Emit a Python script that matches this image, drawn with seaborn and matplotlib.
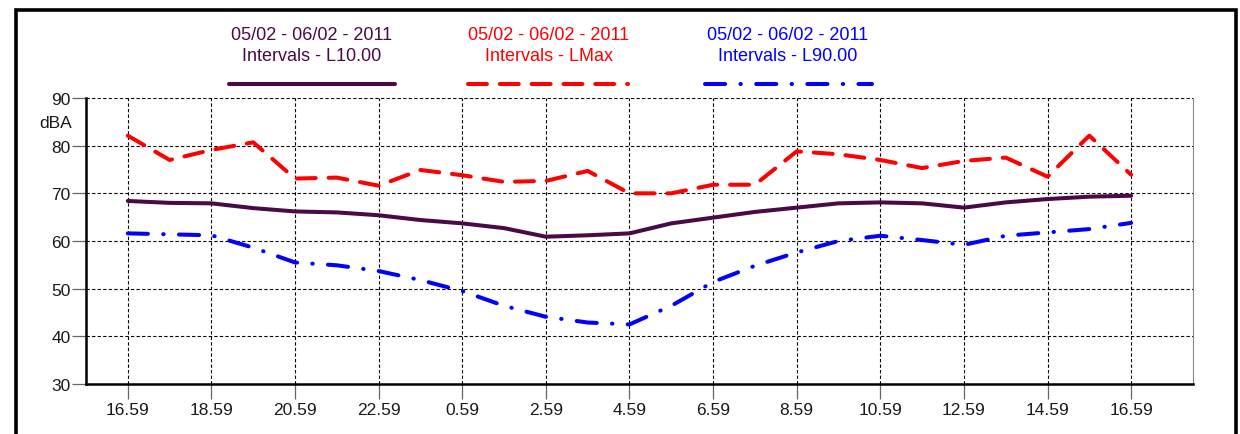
import numpy as np
import pandas as pd
import matplotlib
matplotlib.use("Agg")
import matplotlib.pyplot as plt
import seaborn as sns
from matplotlib.lines import Line2D
from matplotlib.patches import Rectangle

# ---- data ----
hours = ["16.59", "17.59", "18.59", "19.59", "20.59", "21.59", "22.59", "23.59",
         "0.59", "1.59", "2.59", "3.59", "4.59", "5.59", "6.59", "7.59",
         "8.59", "9.59", "10.59", "11.59", "12.59", "13.59", "14.59", "15.59", "16.59"]
l10 = [68.4, 68.0, 67.9, 66.9, 66.2, 66.0, 65.4, 64.4, 63.7, 62.7, 60.9, 61.2, 61.6,
       63.7, 64.9, 66.1, 67.0, 67.9, 68.1, 67.9, 67.0, 68.1, 68.8, 69.3, 69.5]
lmax = [82.1, 77.0, 79.1, 80.7, 73.1, 73.3, 71.6, 74.9, 73.8, 72.4, 72.6, 74.7, 70.0,
        70.0, 71.8, 71.8, 78.8, 78.2, 77.0, 75.3, 76.8, 77.5, 73.5, 82.1, 73.9]
l90 = [61.6, 61.4, 61.2, 58.6, 55.5, 54.9, 53.7, 51.8, 49.5, 46.4, 44.1, 42.9, 42.5,
       46.4, 51.4, 54.8, 57.6, 60.0, 61.1, 60.2, 59.2, 61.1, 61.8, 62.5, 63.8]
y_ticks = [30, 40, 50, 60, 70, 80, 90]
legend_date = "05/02 - 06/02 - 2011"
legend_labels = ["Intervals - L10.00", "Intervals - LMax", "Intervals - L90.00"]
y_unit = "dBA"

# ---- style ----
sns.set_theme(style="white")
plt.rcParams['font.family'] = ['Liberation Sans', 'DejaVu Sans']

PURPLE = "#4A0A48"
RED = "#FF0000"
BLUE = "#0000FF"
LW = 2.9

fig = plt.figure(figsize=(12.4, 4.35), dpi=100)
W, H = 1240, 435
ax = fig.add_axes([86 / W, 1 - 385 / H, (1193 - 86) / W, (385 - 99) / H])

idx = np.arange(len(hours))
df = pd.DataFrame({"idx": idx, "hour": hours, "L10": l10, "LMax": lmax, "L90": l90})

red_ls = (0, (4.7, 3.2))
blue_ls = (0, (5.0, 3.8, 0.1, 3.8))

sns.lineplot(data=df, x="idx", y="LMax", color=RED, lw=LW, linestyle=red_ls,
             dash_capstyle="round", ax=ax)
sns.lineplot(data=df, x="idx", y="L10", color=PURPLE, lw=LW,
             solid_capstyle="round", solid_joinstyle="round", ax=ax)
sns.lineplot(data=df, x="idx", y="L90", color=BLUE, lw=LW, linestyle=blue_ls,
             dash_capstyle="round", ax=ax)

ax.set_xlabel("")
ax.set_ylabel("")
ax.set_xlim(-1.0, 25.48)
ax.set_ylim(30, 90)
ax.set_yticks(y_ticks)
ax.set_xticks(idx[::2])
ax.set_xticklabels(hours[::2])

ax.grid(True, color="black", lw=0.8, linestyle=(0, (3, 2)))
ax.set_axisbelow(True)

for s in ["left", "bottom"]:
    ax.spines[s].set_color("black")
    ax.spines[s].set_linewidth(1.8)
ax.spines["top"].set_visible(False)
ax.spines["right"].set_color("#888888")
ax.spines["right"].set_linewidth(0.8)

ax.tick_params(axis="y", left=True, length=10, width=0.9, color="#666666",
               pad=1.0, labelsize=12.5, labelcolor="#1a1a1a")
ax.tick_params(axis="x", bottom=True, length=11, width=0.9, color="#666666",
               pad=2.0, labelsize=12.5, labelcolor="#1a1a1a")

fig.text(72 / W, 1 - 123 / H, y_unit, ha="right", va="center", fontsize=12.5,
         color="#1a1a1a")

# ---- legend (drawn above the plot) ----
leg_colors = [PURPLE, RED, BLUE]
leg_centers = [312, 549, 788]
leg_spans = [(229, 395), (468, 628), (705, 872)]
leg_styles = ["-", red_ls, blue_ls]
for c, cx, (x0, x1), ls, lab in zip(leg_colors, leg_centers, leg_spans, leg_styles, legend_labels):
    fig.text(cx / W, 1 - 36 / H, legend_date, ha="center", va="center",
             fontsize=13, color=c)
    fig.text(cx / W, 1 - 56.5 / H, lab, ha="center", va="center",
             fontsize=13, color=c)
    fig.add_artist(Line2D([x0 / W, x1 / W], [1 - 85 / H, 1 - 85 / H],
                          transform=fig.transFigure, color=c, lw=LW, linestyle=ls,
                          dash_capstyle="round", solid_capstyle="round"))

# ---- outer frame ----
fig.add_artist(Rectangle((16 / W, -0.1), (1236 - 16) / W, (1 - 10.5 / H) + 0.1,
                         transform=fig.transFigure, fill=False, lw=2.6,
                         edgecolor="black", clip_on=False))

fig.savefig("out.png", dpi=100)
